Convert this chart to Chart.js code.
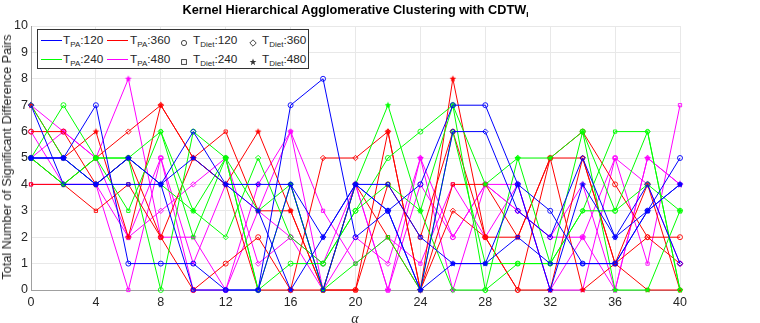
<!DOCTYPE html>
<html>
<head>
<meta charset="utf-8">
<script src="https://cdn.jsdelivr.net/npm/chart.js@4.4.1/dist/chart.umd.min.js"></script>
<style>
  html, body { margin: 0; padding: 0; background: #fff; }
  #wrap { position: relative; width: 760px; height: 323px; font-family: "Liberation Sans", Arial, Helvetica, sans-serif; color: #262626; }
  #chart { position: absolute; left: 0; top: 0; }
  #title { position: absolute; left: 31px; width: 649px; top: 3px; text-align: center; font-weight: bold; font-size: 12.7px; color: #000; white-space: nowrap; }
  #title sub { font-size: 8px; vertical-align: -3px; }
  #ylab { position: absolute; left: 7px; top: 157px; transform: translate(-50%, -50%) rotate(-90deg); font-size: 12.7px; white-space: nowrap; }
  #xlab { position: absolute; left: 355px; top: 311px; transform: translateX(-50%); font-family: "Liberation Serif", "DejaVu Serif", serif; font-style: italic; font-size: 14px; }
  #legend { position: absolute; left: 37px; top: 29px; width: 272px; height: 40px; box-sizing: border-box; border: 1px solid #333; background: #fff; font-size: 11.8px; }
  .item { position: absolute; height: 14px; line-height: 14px; white-space: nowrap; }
  .item sub { font-size: 8px; vertical-align: -3px; line-height: 0; }
  .swatch { position: absolute; width: 21px; height: 1px; }
  .mk { position: absolute; }
</style>
</head>
<body>
<div id="wrap">
  <canvas id="chart" width="760" height="323"></canvas>
  <div id="title">Kernel Hierarchical Agglomerative Clustering with CDTW<sub>I</sub></div>
  <div id="ylab">Total Number of Significant Difference Pairs</div>
  <div id="xlab">α</div>
  <div id="legend"></div>
</div>
<script>
// alpha values on the x axis
const alphas = [0, 2, 4, 6, 8, 10, 12, 14, 16, 18, 20, 22, 24, 26, 28, 30, 32, 34, 36, 38, 40];

// T_PA groups (line colour) and T_Diet groups (marker)
const paLevels = ["120", "240", "360", "480"];
const dietLevels = ["120", "240", "360", "480"];
const paColors = ["#0000ff", "#00ff00", "#ff0000", "#ff00ff"];

// blue = T_PA:120
const pa120diet120 = [5, 5, 7, 1, 1, 1, 0, 0, 7, 8, 2, 3, 4, 7, 7, 4, 3, 1, 1, 3, 5];
const pa120diet240 = [5, 5, 4, 4, 4, 0, 0, 0, 4, 0, 4, 4, 2, 1, 1, 2, 1, 1, 1, 3, 4];
const pa120diet360 = [7, 4, 4, 5, 4, 6, 4, 4, 4, 2, 4, 3, 0, 6, 6, 3, 2, 5, 2, 4, 1];
const pa120diet480 = [5, 5, 4, 5, 4, 5, 4, 3, 0, 2, 4, 3, 0, 1, 1, 4, 0, 4, 2, 3, 4];
// green = T_PA:240
const pa240diet120 = [5, 7, 5, 5, 0, 6, 5, 0, 1, 1, 3, 5, 6, 7, 0, 1, 1, 6, 3, 4, 3];
const pa240diet240 = [5, 4, 5, 3, 6, 2, 5, 0, 4, 0, 1, 2, 0, 6, 1, 1, 1, 3, 6, 6, 0];
const pa240diet360 = [7, 5, 4, 5, 6, 3, 2, 5, 2, 1, 3, 4, 3, 0, 0, 5, 1, 3, 3, 6, 0];
const pa240diet480 = [5, 4, 5, 5, 4, 3, 5, 3, 4, 0, 4, 7, 3, 7, 4, 5, 5, 6, 0, 0, 3];
// red = T_PA:360
const pa360diet120 = [6, 6, 4, 5, 2, 0, 1, 2, 0, 0, 0, 4, 2, 6, 2, 0, 5, 6, 4, 2, 2];
const pa360diet240 = [4, 4, 3, 4, 2, 5, 6, 3, 3, 0, 4, 2, 0, 4, 4, 2, 5, 5, 1, 0, 0];
const pa360diet360 = [5, 4, 5, 6, 7, 5, 4, 0, 0, 5, 5, 6, 0, 3, 2, 0, 0, 5, 1, 2, 1];
const pa360diet480 = [7, 5, 6, 2, 7, 5, 4, 6, 3, 0, 0, 6, 0, 8, 2, 2, 5, 0, 1, 4, 0];
// magenta = T_PA:480
const pa480diet120 = [5, 6, 5, 2, 5, 0, 0, 3, 2, 1, 4, 0, 4, 2, 4, 3, 2, 2, 5, 4, 1];
const pa480diet240 = [4, 4, 4, 0, 5, 1, 4, 3, 6, 3, 1, 2, 1, 4, 2, 4, 0, 0, 5, 1, 7];
const pa480diet360 = [6, 4, 4, 2, 3, 4, 5, 1, 2, 0, 2, 1, 5, 2, 4, 3, 2, 4, 0, 5, 4];
const pa480diet480 = [7, 6, 5, 8, 2, 2, 0, 4, 6, 0, 4, 0, 5, 0, 4, 4, 0, 2, 0, 5, 4];

const seriesGrid = [
  [pa120diet120, pa120diet240, pa120diet360, pa120diet480],
  [pa240diet120, pa240diet240, pa240diet360, pa240diet480],
  [pa360diet120, pa360diet240, pa360diet360, pa360diet480],
  [pa480diet120, pa480diet240, pa480diet360, pa480diet480]
];

/* ---------- markers ---------- */

function starImg(color, size) {
  const c = document.createElement("canvas");
  c.width = c.height = size;
  const g = c.getContext("2d");
  const cx = size / 2, cy = size / 2, ro = size / 2 - 0.5, ri = ro * 0.45;
  g.beginPath();
  for (let i = 0; i < 10; i++) {
    const r = i % 2 ? ri : ro;
    const a = -Math.PI / 2 + i * Math.PI / 5;
    const px = cx + r * Math.cos(a), py = cy + r * Math.sin(a);
    i ? g.lineTo(px, py) : g.moveTo(px, py);
  }
  g.closePath();
  g.fillStyle = color;
  g.fill();
  return c;
}

function markerFor(di, color) {
  if (di === 0) return { style: "circle", radius: 2.5 };
  if (di === 1) return { style: "rect", radius: 2.3 };
  if (di === 2) return { style: "rectRot", radius: 2.7 };
  return { style: starImg(color, 8), radius: 3.5 };
}

/* ---------- datasets ---------- */

const datasets = [];
seriesGrid.forEach((row, pi) => {
  row.forEach((vals, di) => {
    const m = markerFor(di, paColors[pi]);
    datasets.push({
      label: "T_PA:" + paLevels[pi] + " T_Diet:" + dietLevels[di],
      data: vals.map((v, i) => ({ x: alphas[i], y: v })),
      borderColor: paColors[pi],
      borderWidth: 1,
      pointStyle: m.style,
      pointRadius: m.radius,
      pointBorderColor: paColors[pi],
      pointBackgroundColor: "rgba(0,0,0,0)",
      pointBorderWidth: 0.9,
      tension: 0,
      fill: false,
      clip: 6
    });
  });
});

new Chart(document.getElementById("chart"), {
  type: "line",
  data: { datasets },
  options: {
    responsive: false,
    animation: false,
    events: [],
    layout: { padding: { left: 0, right: 80, top: 26, bottom: 0 } },
    plugins: { legend: { display: false }, tooltip: { enabled: false } },
    scales: {
      x: {
        type: "linear",
        min: 0,
        max: 40,
        afterFit: (s) => { s.height = 33; },
        grid: { color: "#e8e8e8", drawTicks: false },
        border: { color: "#a0a0a0" },
        ticks: { stepSize: 4, padding: 5, color: "#262626", font: { family: "'Liberation Sans', Arial", size: 12.5 } }
      },
      y: {
        min: 0,
        max: 10,
        afterFit: (s) => { s.width = 31; },
        grid: { color: "#e8e8e8", drawTicks: false },
        border: { color: "#a0a0a0" },
        ticks: { stepSize: 1, padding: 3, color: "#262626", font: { family: "'Liberation Sans', Arial", size: 12.5 } }
      }
    }
  }
});

/* ---------- legend ---------- */

const legend = document.getElementById("legend");
function addEl(cls, left, top, html) {
  const d = document.createElement("div");
  d.className = cls;
  d.style.left = left + "px";
  d.style.top = top + "px";
  if (html) d.innerHTML = html;
  legend.appendChild(d);
  return d;
}
function addSwatch(color, left, top) {
  addEl("swatch", left, top).style.background = color;
}

const markerSvgs = [
  '<svg width="8" height="8"><circle cx="4" cy="4" r="2.6" fill="none" stroke="#333" stroke-width="0.9"/></svg>',
  '<svg width="8" height="8"><rect x="1.6" y="1.6" width="4.8" height="4.8" fill="none" stroke="#333" stroke-width="0.9"/></svg>',
  '<svg width="8" height="8"><polygon points="4,0.8 7.2,4 4,7.2 0.8,4" fill="none" stroke="#333" stroke-width="0.9"/></svg>',
  '<svg width="8" height="8"><polygon points="4,0.6 4.9,3 7.4,3 5.4,4.6 6.1,7.2 4,5.6 1.9,7.2 2.6,4.6 0.6,3 3.1,3" fill="#333"/></svg>'
];

const row1 = 3, row2 = 22;
// T_PA colours: 120 / 240 in the first column, 360 / 480 in the second
addSwatch(paColors[0], 3, row1 + 7);
addEl("item", 25, row1, "T<sub>PA</sub>:" + paLevels[0]);
addSwatch(paColors[1], 3, row2 + 7);
addEl("item", 25, row2, "T<sub>PA</sub>:" + paLevels[1]);
addSwatch(paColors[2], 69, row1 + 7);
addEl("item", 92, row1, "T<sub>PA</sub>:" + paLevels[2]);
addSwatch(paColors[3], 69, row2 + 7);
addEl("item", 92, row2, "T<sub>PA</sub>:" + paLevels[3]);

// T_Diet markers: 120 / 240 in the third column, 360 / 480 in the fourth
addEl("mk", 142, row1 + 3, markerSvgs[0]);
addEl("item", 155, row1, "T<sub>Diet</sub>:" + dietLevels[0]);
addEl("mk", 142, row2 + 3, markerSvgs[1]);
addEl("item", 155, row2, "T<sub>Diet</sub>:" + dietLevels[1]);
addEl("mk", 211, row1 + 3, markerSvgs[2]);
addEl("item", 224, row1, "T<sub>Diet</sub>:" + dietLevels[2]);
addEl("mk", 211, row2 + 3, markerSvgs[3]);
addEl("item", 224, row2, "T<sub>Diet</sub>:" + dietLevels[3]);
</script>
</body>
</html>
